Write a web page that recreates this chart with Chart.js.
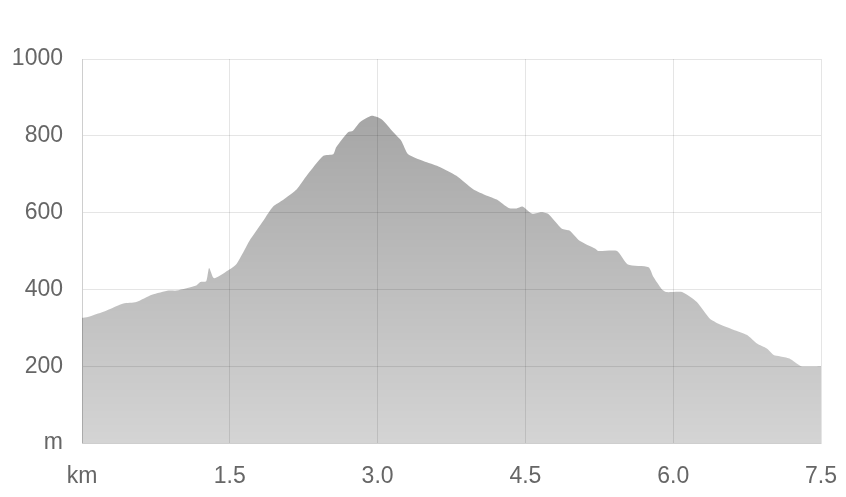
<!DOCTYPE html>
<html>
<head>
<meta charset="utf-8">
<script src="https://cdn.jsdelivr.net/npm/chart.js@4.4.0/dist/chart.umd.min.js"></script>
<style>
    html, body { margin: 0; padding: 0; background: #fff; }
    #wrap { width: 846px; height: 497px; }
</style>
</head>
<body>
<div id="wrap"><canvas id="profile"></canvas></div>
<script>
const distanceKm = [
    0.0, 0.06, 0.25, 0.42, 0.55, 0.71, 0.88, 0.96, 1.16, 1.2, 1.26, 1.29, 1.34, 1.48,
    1.57, 1.7, 1.84, 1.94, 2.04, 2.18, 2.28, 2.45, 2.55, 2.58, 2.7, 2.75, 2.82, 2.94,
    3.04, 3.16, 3.24, 3.31, 3.5, 3.63, 3.8, 3.97, 4.11, 4.21, 4.33, 4.41, 4.47, 4.57,
    4.66, 4.73, 4.87, 4.95, 5.05, 5.21, 5.24, 5.43, 5.54, 5.75, 5.8, 5.88, 5.93, 6.09,
    6.24, 6.37, 6.47, 6.61, 6.75, 6.85, 6.95, 7.02, 7.08, 7.18, 7.3, 7.5
];
const elevationM = [
    326, 328, 345, 363, 367, 386, 397, 397, 410, 419, 421, 456, 429, 449,
    467, 527, 579, 616, 633, 661, 696, 748, 752, 770, 809, 813, 835, 852,
    843, 809, 787, 752, 731, 719, 696, 661, 644, 634, 612, 611, 616, 597,
    601, 597, 558, 553, 527, 506, 500, 500, 465, 458, 432, 402, 393, 393,
    367, 324, 309, 295, 281, 259, 246, 229, 226, 220, 200, 200
];
const xTicks = [0, 1.5, 3.0, 4.5, 6.0, 7.5];
const yTicks = [0, 200, 400, 600, 800, 1000];

const points = distanceKm.map((d, i) => ({ x: d, y: elevationM[i] }));

function fillGradient(context) {
    const area = context.chart.chartArea;
    if (!area) return 'rgba(0,0,0,0.3)';
    const g = context.chart.ctx.createLinearGradient(0, area.top, 0, area.bottom);
    g.addColorStop(0, 'rgba(0,0,0,0.38)');
    g.addColorStop(1, 'rgba(0,0,0,0.17)');
    return g;
}

const tickFont = { family: 'Liberation Sans, Arial, sans-serif', size: 23 };

new Chart(document.getElementById('profile'), {
    type: 'line',
    data: {
        datasets: [{
            data: points,
            fill: 'origin',
            backgroundColor: fillGradient,
            borderWidth: 0,
            pointRadius: 0,
            tension: 0.2
        }]
    },
    options: {
        responsive: true,
        maintainAspectRatio: false,
        animation: false,
        layout: { padding: { top: 59, right: 25, bottom: 0, left: 12 } },
        plugins: { legend: { display: false }, tooltip: { enabled: false } },
        scales: {
            x: {
                type: 'linear',
                min: 0,
                max: 7.5,
                afterBuildTicks: (axis) => { axis.ticks = xTicks.map(v => ({ value: v })); },
                afterFit: (axis) => {
                    axis.height = 54;
                    axis.paddingLeft = 0;
                    axis.paddingRight = 0;
                },
                grid: { drawTicks: false, color: 'rgba(0,0,0,0.1)' },
                border: { color: 'rgba(0,0,0,0.1)' },
                ticks: {
                    padding: 20,
                    color: '#666',
                    font: tickFont,
                    maxRotation: 0,
                    callback: (v) => v === 0 ? 'km' : Number(v).toFixed(1)
                }
            },
            y: {
                min: 0,
                max: 1000,
                afterBuildTicks: (axis) => { axis.ticks = yTicks.map(v => ({ value: v })); },
                afterFit: (axis) => { axis.width = 70; },
                grid: { drawTicks: false, color: 'rgba(0,0,0,0.1)' },
                border: { color: 'rgba(0,0,0,0.1)' },
                ticks: {
                    padding: 19,
                    color: '#666',
                    font: tickFont,
                    callback: (v) => v === 0 ? 'm' : v
                }
            }
        }
    }
});
</script>
</body>
</html>
